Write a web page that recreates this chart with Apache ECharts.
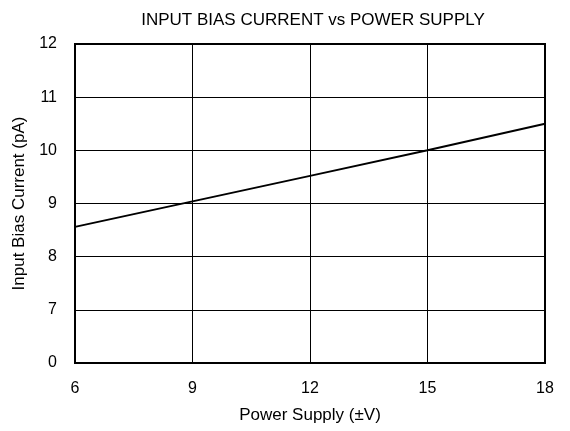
<!DOCTYPE html>
<html lang="en">
<head>
    <meta charset="UTF-8">
    <title>Input Bias Current vs Power Supply</title>
    <script src="https://cdn.jsdelivr.net/npm/echarts@6/dist/echarts.min.js"></script>
</head>
<style>
    *{ margin: 0; padding: 0; }
    html,body{ width: 100%; height: 100%; overflow: hidden; background: #fff; }
    .container{ width: 570px; height: 431px; }
</style>
<body>
<div class="container"></div>
<script>
   // supply voltage (±V) and bias current (pA)
   let supply = [6, 9, 12, 15, 18];
   let biasCurrent = [8.56, 9.04, 9.52, 10.0, 10.5];
   // broken y axis: lowest tick is printed as 0
   let yTickLabels = {6: '0', 7: '7', 8: '8', 9: '9', 10: '10', 11: '11', 12: '12'};

   let font = 'Liberation Sans, Arial, sans-serif';
   let mycharts = echarts.init(document.querySelector('.container'));

   let options = {
       animation: false,
       title: {
           text: 'INPUT BIAS CURRENT vs POWER SUPPLY',
           left: 308,
           textAlign: 'center',
           top: 7,
           textStyle: { fontFamily: font, fontSize: 17, fontWeight: 'normal', color: '#000' }
       },
       grid: {
           left: 75, right: 25, top: 44, bottom: 68,
           show: true, borderColor: '#000', borderWidth: 2
       },
       xAxis: {
           type: 'value',
           min: 6, max: 18, interval: 3,
           name: 'Power Supply (±V)',
           nameLocation: 'middle',
           nameGap: 44,
           nameTextStyle: { fontFamily: font, fontSize: 17, color: '#000' },
           axisLine: { show: false },
           axisTick: { show: false },
           axisLabel: { fontFamily: font, fontSize: 16, color: '#000', margin: 18 },
           splitLine: { lineStyle: { color: '#000', width: 1 } }
       },
       yAxis: {
           type: 'value',
           min: 6, max: 12, interval: 1,
           name: 'Input Bias Current (pA)',
           nameLocation: 'middle',
           nameGap: 46,
           nameTextStyle: { fontFamily: font, fontSize: 17, color: '#000' },
           axisLine: { show: false },
           axisTick: { show: false },
           axisLabel: {
               fontFamily: font, fontSize: 16, color: '#000', margin: 18,
               formatter: v => yTickLabels[v]
           },
           splitLine: { lineStyle: { color: '#000', width: 1 } }
       },
       series: [{
           type: 'line',
           data: supply.map((x, i) => [x, biasCurrent[i]]),
           showSymbol: false,
           lineStyle: { color: '#000', width: 2 }
       }]
   };
   mycharts.setOption(options);
</script>
</body>
</html>
